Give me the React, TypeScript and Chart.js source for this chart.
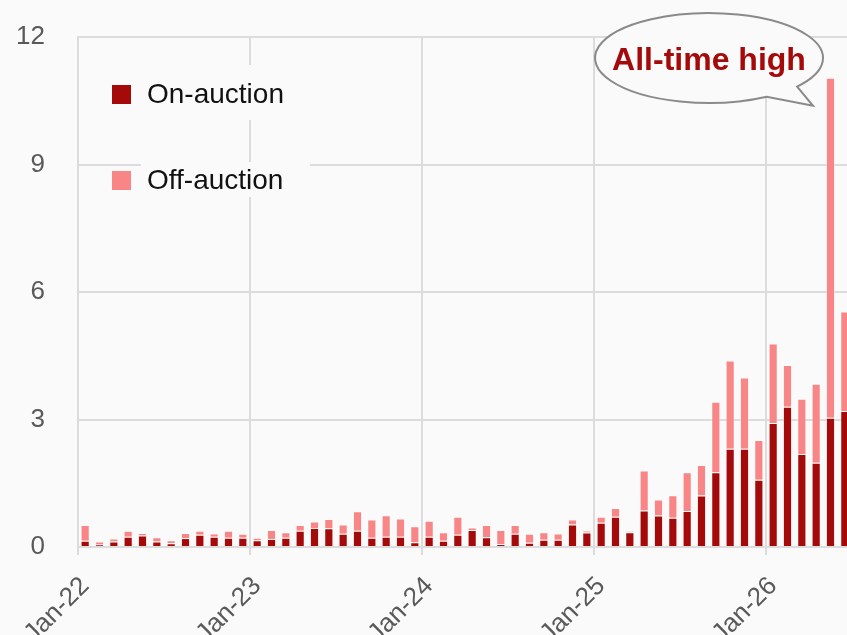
import { useEffect, useRef } from 'react';
import { Chart, registerables } from 'chart.js';

Chart.register(...registerables);

const categories = [
  'Jan-22', 'Feb-22', 'Mar-22', 'Apr-22', 'May-22', 'Jun-22', 'Jul-22', 'Aug-22', 'Sep-22', 'Oct-22', 'Nov-22', 'Dec-22',
  'Jan-23', 'Feb-23', 'Mar-23', 'Apr-23', 'May-23', 'Jun-23', 'Jul-23', 'Aug-23', 'Sep-23', 'Oct-23', 'Nov-23', 'Dec-23',
  'Jan-24', 'Feb-24', 'Mar-24', 'Apr-24', 'May-24', 'Jun-24', 'Jul-24', 'Aug-24', 'Sep-24', 'Oct-24', 'Nov-24', 'Dec-24',
  'Jan-25', 'Feb-25', 'Mar-25', 'Apr-25', 'May-25', 'Jun-25', 'Jul-25', 'Aug-25', 'Sep-25', 'Oct-25', 'Nov-25', 'Dec-25',
  'Jan-26', 'Feb-26', 'Mar-26', 'Apr-26', 'May-26', 'Jun-26',
];

const onAuction = [
  0.15, 0.06, 0.13, 0.24, 0.27, 0.13, 0.09, 0.21, 0.29, 0.24, 0.22, 0.22,
  0.16, 0.19, 0.22, 0.38, 0.45, 0.44, 0.31, 0.38, 0.22, 0.24, 0.24, 0.11,
  0.24, 0.15, 0.29, 0.40, 0.23, 0.07, 0.31, 0.10, 0.17, 0.17, 0.53, 0.34,
  0.57, 0.71, 0.35, 0.86, 0.74, 0.69, 0.85, 1.21, 1.76, 2.31, 2.31, 1.58,
  2.92, 3.30, 2.19, 1.98, 3.04, 3.20,
];

const offAuction = [
  0.37, 0.07, 0.07, 0.14, 0.06, 0.10, 0.07, 0.12, 0.09, 0.08, 0.16, 0.09,
  0.06, 0.21, 0.13, 0.14, 0.15, 0.22, 0.22, 0.46, 0.43, 0.51, 0.43, 0.38,
  0.38, 0.20, 0.42, 0.06, 0.29, 0.33, 0.21, 0.21, 0.18, 0.15, 0.12, 0.05,
  0.14, 0.21, 0.02, 0.94, 0.38, 0.53, 0.91, 0.72, 1.66, 2.08, 1.68, 0.94,
  1.87, 0.98, 1.30, 1.86, 8.00, 2.34,
];

const seriesNames = ['On-auction', 'Off-auction'];
const seriesColors = ['#a50a0a', '#f98686'];
const seriesBorders = ['rgba(255,255,255,0.18)', 'rgba(255,255,255,0.3)'];
const yMin = 0;
const yMax = 12;
const yStep = 3;
const annotationText = 'All-time high';
const annotationIndex = 52;

const BG = '#fafafa';
const GRID = '#dcdcdc';
const FONT = '"Liberation Sans", Arial, Helvetica, sans-serif';

export default function App() {
  const ref = useRef<HTMLCanvasElement>(null);

  useEffect(() => {
    if (!ref.current) return;

    const overlay = {
      id: 'overlay',
      beforeDraw(chart: any) {
        const { ctx, width, height } = chart;
        ctx.save();
        ctx.fillStyle = BG;
        ctx.fillRect(0, 0, width, height);
        ctx.restore();
      },
      afterDraw(chart: any) {
        const { ctx, chartArea } = chart;
        const xs = chart.scales.x;
        const ys = chart.scales.y;
        ctx.save();

        // legend
        const lx = chartArea.left;
        const lt = chartArea.top;
        const boxes = [
          { y: lt + 28, h: 55 },
          { y: lt + 125, h: 35 },
        ];
        seriesNames.forEach((name, i) => {
          const b = boxes[i];
          ctx.fillStyle = BG;
          ctx.fillRect(lx + 63, b.y, 169, b.h);
          const sy = lt + 48 + i * 86;
          ctx.fillStyle = seriesColors[i];
          ctx.fillRect(lx + 34, sy, 19, 19);
          ctx.fillStyle = '#111111';
          ctx.font = `28px ${FONT}`;
          ctx.textAlign = 'left';
          ctx.textBaseline = 'alphabetic';
          ctx.fillText(name, lx + 69, sy + 18);
        });

        // annotation bubble
        const total = onAuction[annotationIndex] + offAuction[annotationIndex];
        const bx = xs.getPixelForValue(annotationIndex);
        const by = ys.getPixelForValue(total);
        const cx = bx - 121.5;
        const cy = chartArea.top + 21;
        const rx = 114;
        const ry = 45;
        const tipX = bx - 17.5;
        const tipY = by + 28;
        const aA = Math.atan2(0.64, 0.78);
        const aB = Math.atan2(0.867, 0.509);
        ctx.beginPath();
        ctx.ellipse(cx, cy, rx, ry, 0, aB, aA + Math.PI * 2, false);
        ctx.lineTo(tipX, tipY);
        ctx.closePath();
        ctx.fillStyle = BG;
        ctx.fill();
        ctx.lineWidth = 2;
        ctx.strokeStyle = '#8a8a8a';
        ctx.lineJoin = 'miter';
        ctx.stroke();

        ctx.fillStyle = '#a50a0a';
        ctx.font = `bold 32px ${FONT}`;
        ctx.textAlign = 'center';
        ctx.textBaseline = 'alphabetic';
        ctx.fillText(annotationText, cx, cy + 12);

        ctx.restore();
      },
    };

    const chart = new Chart(ref.current, {
      type: 'bar',
      data: {
        labels: categories,
        datasets: [
          {
            label: seriesNames[0],
            data: onAuction,
            backgroundColor: seriesColors[0],
            borderColor: seriesBorders[0],
            borderWidth: 1,
            barPercentage: 0.64,
            categoryPercentage: 1,
          },
          {
            label: seriesNames[1],
            data: offAuction,
            backgroundColor: seriesColors[1],
            borderColor: seriesBorders[1],
            borderWidth: 1,
            barPercentage: 0.64,
            categoryPercentage: 1,
          },
        ],
      },
      options: {
        animation: false,
        responsive: false,
        maintainAspectRatio: false,
        layout: { padding: { top: 37, right: 18, left: 0, bottom: 0 } },
        plugins: {
          legend: { display: false },
          tooltip: { enabled: false },
        },
        scales: {
          x: {
            stacked: true,
            offset: true,
            afterFit: (s: any) => {
              s.height = 88;
              s.paddingLeft = 0;
              s.paddingRight = 0;
            },
            grid: {
              offset: true,
              lineWidth: 2,
              tickLength: 8,
              color: (c: any) => (c.index % 12 === 0 ? GRID : 'rgba(0,0,0,0)'),
            },
            border: { display: true, color: GRID, width: 2 },
            ticks: {
              autoSkip: false,
              minRotation: 45,
              maxRotation: 45,
              padding: 16,
              color: '#595959',
              font: { family: FONT, size: 26 },
              callback: (_v: any, i: number) => (i % 12 === 0 ? categories[i] : ''),
            },
          },
          y: {
            stacked: true,
            min: yMin,
            max: yMax,
            afterFit: (s: any) => {
              s.width = 78;
              s.paddingTop = 0;
              s.paddingBottom = 0;
            },
            grid: { color: GRID, lineWidth: 2, drawTicks: false },
            border: { display: true, color: GRID, width: 2 },
            ticks: {
              stepSize: yStep,
              padding: 33,
              color: '#595959',
              font: { family: FONT, size: 26 },
            },
          },
        },
      },
      plugins: [overlay],
    });

    return () => chart.destroy();
  }, []);

  return (
    <div
      style={{
        position: 'fixed',
        left: 0,
        top: 0,
        width: 847,
        height: 635,
        overflow: 'hidden',
        background: BG,
      }}
    >
      <canvas ref={ref} width={870} height={635} style={{ display: 'block', width: 870, height: 635 }} />
    </div>
  );
}
